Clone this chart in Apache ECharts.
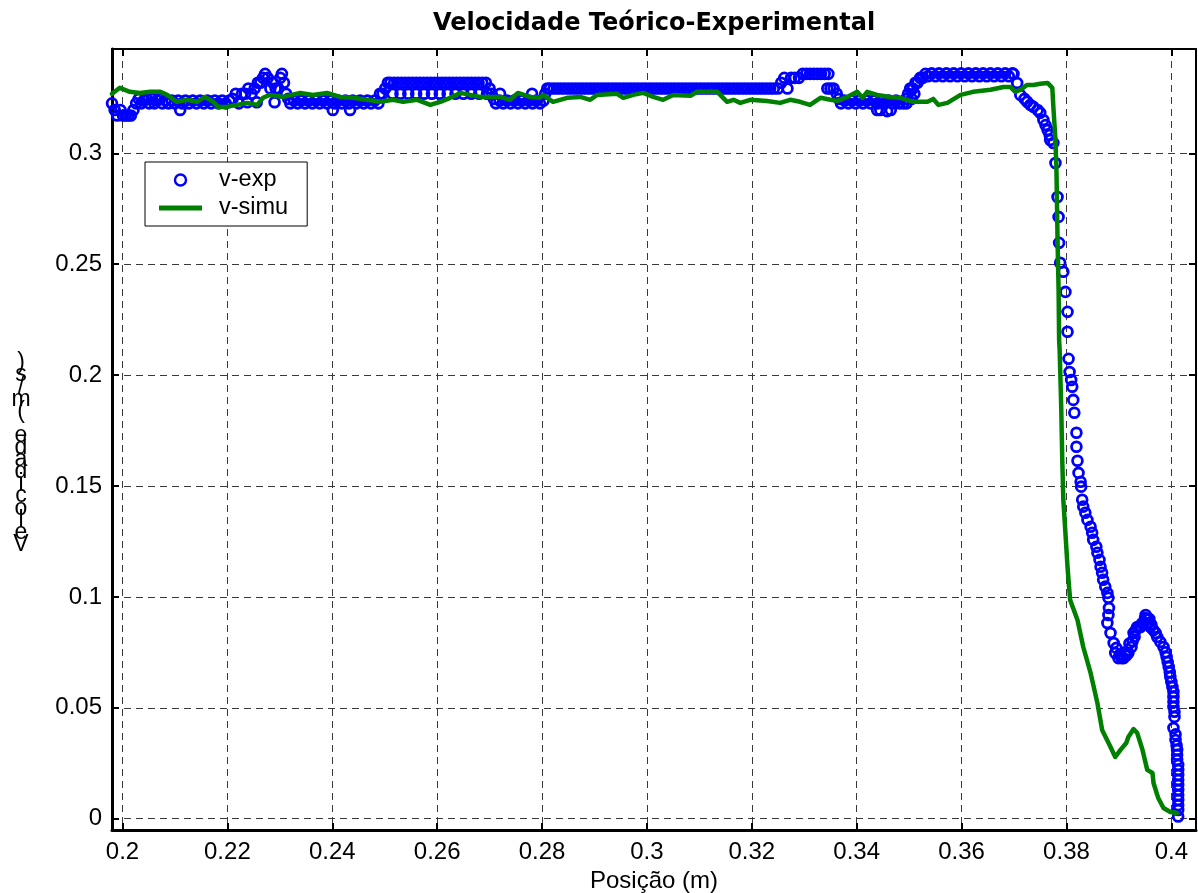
<!DOCTYPE html>
<html>
<head>
<meta charset="utf-8">
<script src="https://cdn.jsdelivr.net/npm/echarts@6/dist/echarts.min.js"></script>
<style>html,body{margin:0;padding:0;background:#fff}#c{width:1198px;height:893px}</style>
</head>
<body>
<div id="c"></div>
<script>
const chartTitle = 'Velocidade Teórico-Experimental';
const xTitle = 'Posição (m)';
const yTitle = 'Velocidade (m/s)';
const seriesNames = ['v-exp', 'v-simu'];
const xTicks = [0.2, 0.22, 0.24, 0.26, 0.28, 0.3, 0.32, 0.34, 0.36, 0.38, 0.4];
const yTicks = [0, 0.05, 0.1, 0.15, 0.2, 0.25, 0.3];

// experimental velocity (position m, velocity m/s)
const expData = [
[0.1980,0.3225],[0.1985,0.3195],[0.1990,0.3170],[0.1996,0.3195],[0.2001,0.3170],[0.2006,0.3170],[0.2011,0.3170],[0.2016,0.3170],
[0.2021,0.3195],[0.2026,0.3225],[0.2031,0.3245],[0.2036,0.3225],[0.2041,0.3238],[0.2046,0.3245],[0.2051,0.3225],[0.2056,0.3245],
[0.2061,0.3225],[0.2066,0.3238],[0.2071,0.3245],[0.2076,0.3225],[0.2082,0.3238],[0.2088,0.3225],[0.2094,0.3238],[0.2100,0.3225],
[0.2106,0.3238],[0.2110,0.3195],[0.2114,0.3225],[0.2120,0.3238],[0.2127,0.3225],[0.2134,0.3238],[0.2141,0.3225],[0.2148,0.3238],
[0.2155,0.3225],[0.2162,0.3238],[0.2169,0.3225],[0.2176,0.3238],[0.2183,0.3225],[0.2190,0.3238],[0.2197,0.3225],[0.2204,0.3238],
[0.2210,0.3245],[0.2216,0.3268],[0.2222,0.3225],[0.2228,0.3268],[0.2234,0.3268],[0.2238,0.3230],[0.2240,0.3292],[0.2246,0.3268],
[0.2252,0.3292],[0.2256,0.3230],[0.2258,0.3318],[0.2263,0.3318],[0.2268,0.3340],[0.2272,0.3358],[0.2277,0.3340],[0.2282,0.3292],
[0.2287,0.3318],[0.2290,0.3230],[0.2292,0.3292],[0.2297,0.3292],[0.2301,0.3340],[0.2304,0.3358],[0.2308,0.3318],[0.2312,0.3268],
[0.2316,0.3245],[0.2320,0.3225],
[0.2327,0.3238],[0.2334,0.3225],[0.2341,0.3238],[0.2348,0.3225],[0.2355,0.3238],[0.2362,0.3225],[0.2369,0.3238],[0.2376,0.3225],
[0.2383,0.3238],[0.2390,0.3225],[0.2397,0.3238],[0.2401,0.3195],[0.2404,0.3225],[0.2411,0.3238],[0.2418,0.3225],[0.2425,0.3238],
[0.2432,0.3225],[0.2434,0.3195],[0.2439,0.3238],[0.2446,0.3225],[0.2453,0.3238],[0.2460,0.3225],[0.2467,0.3238],[0.2474,0.3225],
[0.2481,0.3238],[0.2488,0.3225],
[0.2491,0.3268],[0.2496,0.3268],[0.2501,0.3292],[0.2506,0.3318],
[0.2511,0.3318],[0.2515,0.3268],[0.2518,0.3318],[0.2525,0.3318],[0.2530,0.3268],[0.2532,0.3318],[0.2539,0.3318],[0.2545,0.3268],
[0.2546,0.3318],[0.2553,0.3318],[0.2560,0.3318],[0.2560,0.3268],[0.2567,0.3318],[0.2574,0.3318],[0.2575,0.3268],[0.2581,0.3318],
[0.2588,0.3318],[0.2590,0.3268],[0.2595,0.3318],[0.2602,0.3318],[0.2605,0.3268],[0.2609,0.3318],[0.2616,0.3318],[0.2620,0.3268],
[0.2623,0.3318],[0.2630,0.3318],[0.2635,0.3268],[0.2637,0.3318],[0.2644,0.3318],[0.2650,0.3268],[0.2651,0.3318],[0.2658,0.3318],
[0.2665,0.3318],[0.2665,0.3268],[0.2672,0.3318],[0.2679,0.3318],[0.2680,0.3268],[0.2686,0.3318],[0.2693,0.3318],[0.2695,0.3268],
[0.2700,0.3292],[0.2704,0.3268],[0.2708,0.3245],[0.2712,0.3225],[0.2719,0.3238],[0.2720,0.3268],[0.2726,0.3225],[0.2733,0.3238],
[0.2740,0.3225],[0.2747,0.3238],[0.2754,0.3225],[0.2761,0.3238],[0.2768,0.3225],[0.2775,0.3238],[0.2781,0.3268],[0.2782,0.3225],
[0.2789,0.3238],[0.2796,0.3225],[0.2803,0.3238],[0.2806,0.3268],[0.2810,0.3292],
[0.2815,0.3292],[0.2822,0.3292],[0.2829,0.3292],[0.2836,0.3292],[0.2843,0.3292],[0.2850,0.3292],[0.2857,0.3292],[0.2864,0.3292],
[0.2871,0.3292],[0.2878,0.3292],[0.2885,0.3292],[0.2892,0.3292],[0.2899,0.3292],[0.2906,0.3292],[0.2913,0.3292],[0.2920,0.3292],
[0.2927,0.3292],[0.2934,0.3292],[0.2941,0.3292],[0.2948,0.3292],[0.2955,0.3292],[0.2962,0.3292],[0.2969,0.3292],[0.2976,0.3292],
[0.2983,0.3292],[0.2990,0.3292],[0.2997,0.3292],[0.3004,0.3292],[0.3011,0.3292],[0.3018,0.3292],[0.3025,0.3292],[0.3032,0.3292],
[0.3039,0.3292],[0.3046,0.3292],[0.3053,0.3292],[0.3060,0.3292],[0.3067,0.3292],[0.3074,0.3292],[0.3081,0.3292],[0.3088,0.3292],
[0.3095,0.3292],[0.3102,0.3292],[0.3109,0.3292],[0.3116,0.3292],[0.3123,0.3292],[0.3130,0.3292],[0.3137,0.3292],[0.3144,0.3292],
[0.3151,0.3292],[0.3158,0.3292],[0.3165,0.3292],[0.3172,0.3292],[0.3179,0.3292],[0.3186,0.3292],[0.3193,0.3292],[0.3200,0.3292],
[0.3207,0.3292],[0.3214,0.3292],[0.3221,0.3292],[0.3228,0.3292],[0.3235,0.3292],[0.3242,0.3292],
[0.3250,0.3292],[0.3256,0.3318],[0.3262,0.3340],[0.3268,0.3292],[0.3275,0.3340],[0.3282,0.3340],[0.3290,0.3340],[0.3297,0.3358],
[0.3304,0.3358],[0.3311,0.3358],[0.3318,0.3358],[0.3325,0.3358],[0.3332,0.3358],[0.3339,0.3358],[0.3346,0.3358],[0.3344,0.3292],
[0.3350,0.3292],[0.3356,0.3292],[0.3362,0.3268],[0.3366,0.3245],
[0.3370,0.3225],[0.3377,0.3238],[0.3384,0.3225],[0.3391,0.3238],[0.3398,0.3225],[0.3405,0.3238],[0.3412,0.3225],[0.3419,0.3238],
[0.3426,0.3225],[0.3433,0.3238],[0.3439,0.3195],[0.3440,0.3225],[0.3445,0.3195],[0.3447,0.3238],[0.3454,0.3225],[0.3458,0.3190],
[0.3461,0.3238],[0.3465,0.3195],[0.3468,0.3225],[0.3475,0.3238],[0.3482,0.3225],
[0.3489,0.3225],[0.3494,0.3245],[0.3495,0.3225],[0.3498,0.3268],[0.3502,0.3292],[0.3505,0.3245],[0.3507,0.3292],[0.3510,0.3268],
[0.3512,0.3318],[0.3516,0.3318],[0.3521,0.3340],[0.3526,0.3340],[0.3531,0.3358],
[0.3536,0.3347],[0.3543,0.3360],[0.3550,0.3347],[0.3557,0.3360],[0.3564,0.3347],[0.3571,0.3360],[0.3578,0.3347],[0.3585,0.3360],
[0.3592,0.3347],[0.3599,0.3360],[0.3606,0.3347],[0.3613,0.3360],[0.3620,0.3347],[0.3627,0.3360],[0.3634,0.3347],[0.3641,0.3360],
[0.3648,0.3347],[0.3655,0.3360],[0.3662,0.3347],[0.3669,0.3360],[0.3676,0.3347],[0.3683,0.3360],[0.3690,0.3347],[0.3697,0.3360],
[0.3699,0.3358],[0.3706,0.3317],[0.3712,0.3263],[0.3720,0.3245],[0.3725,0.3232],[0.3731,0.3218],[0.3737,0.3209],[0.3745,0.3195],
[0.3750,0.3182],[0.3756,0.3150],[0.3760,0.3127],[0.3764,0.3105],[0.3768,0.3082],[0.3769,0.3060],[0.3775,0.3046],[0.3779,0.2956],
[0.3783,0.2803],[0.3785,0.2713],[0.3786,0.2596],[0.3788,0.2506],[0.3794,0.2466],[0.3798,0.2375],[0.3802,0.2285],[0.3802,0.2195],
[0.3804,0.2073],[0.3806,0.2014],[0.3809,0.1978],[0.3811,0.1947],[0.3813,0.1888],[0.3815,0.1830],[0.3819,0.1740],[0.3819,0.1677],
[0.3821,0.1614],[0.3823,0.1559],[0.3827,0.1519],[0.3828,0.1497],[0.3830,0.1438],[0.3832,0.1407],[0.3836,0.1379],[0.3840,0.1347],
[0.3846,0.1316],[0.3849,0.1289],[0.3851,0.1257],[0.3857,0.1226],[0.3859,0.1199],[0.3863,0.1167],[0.3865,0.1136],[0.3868,0.1109],
[0.3870,0.1077],[0.3874,0.1046],[0.3878,0.1018],[0.3880,0.0996],[0.3881,0.0950],[0.3880,0.0918],[0.3878,0.0882],[0.3884,0.0837],
[0.3890,0.0792],[0.3893,0.0747],[0.3895,0.0770],[0.3899,0.0724],[0.3902,0.0740],[0.3905,0.0724],[0.3909,0.0724],[0.3912,0.0750],
[0.3914,0.0735],[0.3918,0.0747],[0.3920,0.0790],[0.3924,0.0774],[0.3926,0.0800],[0.3928,0.0837],[0.3930,0.0820],[0.3932,0.0850],
[0.3935,0.0864],[0.3941,0.0864],[0.3944,0.0880],[0.3947,0.0882],[0.3950,0.0905],[0.3951,0.0918],[0.3954,0.0900],[0.3956,0.0882],
[0.3958,0.0900],[0.3960,0.0864],[0.3962,0.0875],[0.3966,0.0850],[0.3970,0.0837],[0.3973,0.0819],[0.3979,0.0797],[0.3985,0.0774],
[0.3989,0.0750],[0.3991,0.0729],[0.3993,0.0706],[0.3995,0.0684],[0.3997,0.0660],[0.3998,0.0639],[0.4000,0.0616],[0.4002,0.0594],
[0.4004,0.0571],[0.4004,0.0549],[0.4004,0.0527],[0.4004,0.0504],[0.4006,0.0482],[0.4006,0.0459],[0.4004,0.0409],[0.4008,0.0380],
[0.4008,0.0355],[0.4010,0.0330],[0.4011,0.0310],[0.4011,0.0288],[0.4011,0.0265],[0.4013,0.0242],[0.4013,0.0220],[0.4013,0.0197],
[0.4013,0.0174],[0.4013,0.0152],[0.4013,0.0129],[0.4013,0.0106],[0.4013,0.0084],[0.4013,0.0061],[0.4013,0.0039],[0.4013,0.0010]
];

// simulated velocity (position m, velocity m/s)
const simData = [
[0.1980,0.3268],[0.1995,0.3295],[0.2014,0.3277],[0.2033,0.3272],[0.2053,0.3277],[0.2072,0.3277],[0.2085,0.3263],[0.2104,0.3232],
[0.2123,0.3241],[0.2142,0.3232],[0.2157,0.3254],[0.2173,0.3232],[0.2182,0.3209],[0.2199,0.3209],[0.2218,0.3218],[0.2238,0.3227],
[0.2257,0.3218],[0.2268,0.3250],[0.2281,0.3263],[0.2306,0.3254],[0.2339,0.3272],[0.2363,0.3263],[0.2390,0.3272],[0.2415,0.3254],
[0.2440,0.3250],[0.2466,0.3241],[0.2491,0.3232],[0.2516,0.3241],[0.2535,0.3232],[0.2562,0.3241],[0.2587,0.3218],[0.2606,0.3232],
[0.2625,0.3250],[0.2644,0.3272],[0.2663,0.3263],[0.2682,0.3254],[0.2701,0.3254],[0.2720,0.3254],[0.2739,0.3241],[0.2754,0.3272],
[0.2777,0.3254],[0.2796,0.3250],[0.2802,0.3263],[0.2821,0.3232],[0.2848,0.3250],[0.2873,0.3254],[0.2892,0.3241],[0.2905,0.3263],
[0.2943,0.3268],[0.2955,0.3250],[0.2974,0.3263],[0.2993,0.3272],[0.3012,0.3254],[0.3031,0.3241],[0.3050,0.3263],[0.3083,0.3259],
[0.3096,0.3277],[0.3134,0.3277],[0.3153,0.3232],[0.3165,0.3241],[0.3178,0.3227],[0.3197,0.3241],[0.3229,0.3236],[0.3254,0.3227],
[0.3273,0.3241],[0.3292,0.3232],[0.3311,0.3218],[0.3331,0.3250],[0.3350,0.3241],[0.3363,0.3236],[0.3382,0.3254],[0.3401,0.3277],
[0.3411,0.3250],[0.3420,0.3277],[0.3439,0.3263],[0.3464,0.3254],[0.3483,0.3250],[0.3508,0.3232],[0.3535,0.3232],[0.3546,0.3245],
[0.3556,0.3218],[0.3573,0.3227],[0.3598,0.3263],[0.3622,0.3277],[0.3655,0.3286],[0.3680,0.3299],[0.3693,0.3299],[0.3702,0.3277],
[0.3712,0.3286],[0.3725,0.3308],[0.3737,0.3308],[0.3750,0.3313],[0.3764,0.3317],[0.3773,0.3295],[0.3775,0.3209],[0.3779,0.3060],
[0.3781,0.2911],[0.3783,0.2609],[0.3785,0.2384],[0.3786,0.2158],[0.3787,0.2113],[0.3790,0.1856],[0.3792,0.1617],[0.3794,0.1437],
[0.3798,0.1289],[0.3802,0.1135],[0.3804,0.1073],[0.3807,0.0986],[0.3821,0.0896],[0.3832,0.0774],[0.3846,0.0657],[0.3859,0.0521],
[0.3868,0.0400],[0.3884,0.0323],[0.3893,0.0278],[0.3903,0.0310],[0.3914,0.0341],[0.3918,0.0368],[0.3928,0.0404],[0.3935,0.0386],
[0.3945,0.0310],[0.3954,0.0220],[0.3964,0.0206],[0.3966,0.0161],[0.3975,0.0093],[0.3985,0.0048],[0.3998,0.0030],[0.4011,0.0026]
];

const FONT = '"Liberation Sans", Arial, sans-serif';
const fmt = v => String(parseFloat(Number(v).toFixed(4)));
const chart = echarts.init(document.getElementById('c'), null, {renderer: 'canvas'});

const baseAxis = (pos, ticks, lineW, showLabel, showSplit) => ({
  type: 'value',
  position: pos,
  axisLine: {show: true, onZero: false, lineStyle: {color: '#000', width: lineW}},
  axisTick: {show: true, inside: true, length: 7, customValues: ticks, lineStyle: {color: '#000', width: 2}},
  axisLabel: {show: showLabel, customValues: ticks, formatter: fmt, fontSize: 24, color: '#000', fontFamily: FONT, margin: 10},
  splitLine: {show: showSplit, lineStyle: {color: '#3a3a3a', width: 1, type: [7, 5]}}
});

const xMin = 0.198, xMax = 0.4047, yMin = -0.0051, yMax = 0.347;

chart.setOption({
  animation: false,
  backgroundColor: '#fff',
  title: {
    text: chartTitle, left: 654, top: 12, textAlign: 'center', padding: 0,
    textStyle: {fontSize: 24, fontWeight: 'bold', color: '#000', fontFamily: '"DejaVu Sans", sans-serif'}
  },
  grid: {left: 112, right: 2, top: 49, bottom: 63, containLabel: false, outerBoundsMode: 'none'},
  xAxis: [
    Object.assign(baseAxis('bottom', xTicks, 3, true, true), {
      min: xMin, max: xMax, name: xTitle, nameLocation: 'middle', nameGap: 38,
      nameTextStyle: {fontSize: 24, color: '#000', fontFamily: FONT}
    }),
    Object.assign(baseAxis('top', xTicks, 2, false, false), {min: xMin, max: xMax})
  ],
  yAxis: [
    Object.assign(baseAxis('left', yTicks, 3, true, true), {min: yMin, max: yMax}),
    Object.assign(baseAxis('right', yTicks, 2, false, false), {min: yMin, max: yMax})
  ],
  legend: {
    orient: 'vertical', left: 145, top: 162,
    padding: [6, 19, 6, 14], itemWidth: 43, itemHeight: 11, itemGap: 4,
    symbolKeepAspect: true,
    borderColor: '#000', borderWidth: 1, backgroundColor: '#fff', borderRadius: 0,
    textStyle: {fontSize: 23.5, color: '#000', fontFamily: FONT, padding: [0, 0, 0, 12]},
    data: [
      {name: seriesNames[0], icon: 'circle', itemStyle: {color: 'rgba(0,0,0,0)', borderColor: '#0000ff', borderWidth: 2.4}},
      {name: seriesNames[1], icon: 'path://M0,0 L43,0 L43,5 L0,5 Z', itemStyle: {color: '#008000', borderWidth: 0}}
    ]
  },
  graphic: [{
    type: 'text', x: 21, y: 357,
    style: {
      text: yTitle.split('').reverse().join('\n'),
      font: '23px "Liberation Sans", Arial, sans-serif', lineHeight: 12.1,
      fill: '#000', align: 'center', verticalAlign: 'top'
    }
  }],
  series: [
    {
      name: seriesNames[0], type: 'scatter', xAxisIndex: 0, yAxisIndex: 0,
      symbol: 'circle', symbolSize: 9.8, data: expData, z: 2,
      itemStyle: {color: 'rgba(0,0,0,0)', borderColor: '#0000ff', borderWidth: 2.8, opacity: 1},
      emphasis: {disabled: true}
    },
    {
      name: seriesNames[1], type: 'line', xAxisIndex: 0, yAxisIndex: 0,
      showSymbol: false, symbol: 'none', data: simData, z: 3,
      lineStyle: {color: '#008000', width: 4.5, join: 'round', cap: 'round'},
      itemStyle: {color: '#008000'},
      emphasis: {disabled: true}
    }
  ]
});
</script>
</body>
</html>
